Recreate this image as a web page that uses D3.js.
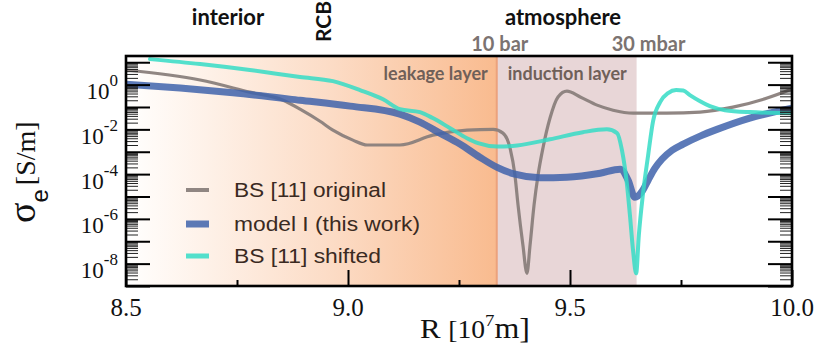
<!DOCTYPE html>
<html>
<head>
<meta charset="utf-8">
<script src="https://cdn.jsdelivr.net/npm/d3@7"></script>
<style>
  html, body { margin: 0; padding: 0; background: #ffffff; }
  svg { display: block; }
</style>
</head>
<body>
<svg id="chart" width="829" height="353"></svg>
<script>
// Radius R in units of 10^7 m, electrical conductivity sigma_e in S/m.
const modelR = [8.500, 8.622, 8.741, 8.892, 9.005, 9.117, 9.162, 9.207, 9.252, 9.297, 9.336, 9.376,
                9.432, 9.493, 9.568, 9.613, 9.631, 9.646, 9.664, 9.676, 9.691, 9.707, 9.730, 9.755,
                9.793, 9.831, 9.905, 10.000];
const modelSigma = [1.05, 0.70, 0.43, 0.20, 0.109, 0.048, 0.021, 6.8e-3, 2.2e-3, 5.7e-4, 2.0e-4, 9.9e-5,
                    6.9e-5, 7.3e-5, 1.1e-4, 1.65e-4, 5.3e-5, 9.2e-6, 1.9e-5, 5.3e-5, 1.8e-4, 4.6e-4, 1.17e-3, 2.2e-3,
                    5.0e-3, 1.0e-2, 3.2e-2, 8.9e-2];

const shiftedR = [8.554, 8.667, 8.779, 8.892, 8.966, 9.027, 9.079, 9.117, 9.162, 9.191, 9.230, 9.268,
                  9.293, 9.336, 9.381, 9.455, 9.529, 9.583, 9.606, 9.617, 9.628, 9.635, 9.642, 9.649,
                  9.655, 9.664, 9.676, 9.687, 9.703, 9.721, 9.739, 9.755, 9.770, 9.793, 9.815, 9.849,
                  9.905, 10.000];
const shiftedSigma = [13.8, 8.3, 4.5, 2.2, 1.43, 0.57, 0.22, 0.080, 0.059, 0.032, 0.0113, 4.0e-3,
                      2.4e-3, 1.7e-3, 1.9e-3, 3.6e-3, 7.5e-3, 1.0e-2, 6.8e-3, 1.17e-3, 3.9e-5, 1.45e-6, 3.9e-8, 3.7e-9,
                      1.85e-7, 1.14e-5, 7.0e-4, 2.3e-2, 0.165, 0.42, 0.57, 0.54, 0.34, 0.18, 0.109, 0.072,
                      0.059, 0.053];

const originalR = [8.500, 8.667, 8.779, 8.854, 8.892, 8.937, 8.966, 9.011, 9.043, 9.117, 9.191, 9.268,
                   9.327, 9.349, 9.365, 9.376, 9.383, 9.394, 9.403, 9.410, 9.419, 9.428, 9.439, 9.455,
                   9.473, 9.493, 9.523, 9.561, 9.597, 9.642, 9.718, 9.793, 9.867, 9.944, 10.000];
const originalSigma = [4.5, 1.6, 0.46, 0.20, 0.080, 0.023, 9.2e-3, 3.3e-3, 2.0e-3, 2.0e-3, 5.5e-3, 9.2e-3,
                       1.0e-2, 6.8e-3, 1.44e-3, 8.9e-5, 4.1e-6, 6.6e-8, 3.7e-9, 6.6e-8, 4.1e-6, 8.9e-5, 1.44e-3, 0.032,
                       0.28, 0.51, 0.28, 0.121, 0.072, 0.053, 0.053, 0.059, 0.098, 0.25, 0.63];

const xMajorTicks = [8.5, 9.0, 9.5, 10.0];
const xTickLabels = ["8.5", "9.0", "9.5", "10.0"];
const xMinorTicks = [8.75, 9.25, 9.75];
const yLabelExponents = [0, -2, -4, -6, -8];
const yDecades = [-9, -8, -7, -6, -5, -4, -3, -2, -1, 0, 1];

// boundaries of the leakage layer (10 bar) and the induction layer (30 mbar)
const boundary10bar = 9.335;
const boundary30mbar = 9.65;

const legendLabels = ["BS [11] original", "model I (this work)", "BS [11] shifted"];

const plot = { left: 126, right: 792, top: 56, bottom: 286 };

const svg = d3.select("#chart");
const x = d3.scaleLinear().domain([8.5, 10.0]).range([plot.left, plot.right]);
const y = d3.scaleLog().domain([1e-9, 19]).range([plot.bottom, plot.top]);

const defs = svg.append("defs");
const grad = defs.append("linearGradient")
  .attr("id", "leakGrad")
  .attr("gradientUnits", "userSpaceOnUse")
  .attr("x1", x(8.5)).attr("x2", x(boundary10bar))
  .attr("y1", 0).attr("y2", 0);
grad.append("stop").attr("offset", 0).attr("stop-color", "#ffffff");
grad.append("stop").attr("offset", 0.06).attr("stop-color", "#fffbf8");
grad.append("stop").attr("offset", 0.55).attr("stop-color", "#fcdcc6");
grad.append("stop").attr("offset", 1).attr("stop-color", "#f9bb8f");

defs.append("clipPath").attr("id", "plotClip")
  .append("rect")
  .attr("x", plot.left).attr("y", plot.top)
  .attr("width", plot.right - plot.left).attr("height", plot.bottom - plot.top);

// shaded layers
svg.append("rect")
  .attr("x", x(8.5)).attr("y", plot.top)
  .attr("width", x(boundary10bar) - x(8.5)).attr("height", plot.bottom - plot.top)
  .attr("fill", "url(#leakGrad)");
svg.append("rect")
  .attr("x", x(boundary10bar)).attr("y", plot.top)
  .attr("width", x(boundary30mbar) - x(boundary10bar)).attr("height", plot.bottom - plot.top)
  .attr("fill", "#e8d6d7");
svg.append("line")
  .attr("x1", x(boundary10bar)).attr("x2", x(boundary10bar))
  .attr("y1", plot.top).attr("y2", plot.bottom)
  .attr("stroke", "#eca27c").attr("stroke-width", 2);

// layer names
svg.append("text")
  .attr("x", x(boundary10bar) - 9).attr("y", 80)
  .attr("text-anchor", "end")
  .attr("font-family", "Lato, sans-serif").attr("font-weight", 700).attr("font-size", 18)
  .attr("fill", "#6f6059")
  .text("leakage layer");
svg.append("text")
  .attr("x", x(boundary10bar) + 11).attr("y", 80)
  .attr("font-family", "Lato, sans-serif").attr("font-weight", 700).attr("font-size", 18)
  .attr("fill", "#6f6059")
  .text("induction layer");

// conductivity profiles
const lineGen = d3.line()
  .x(d => x(d[0]))
  .y(d => y(d[1]))
  .curve(d3.curveMonotoneX);

const curves = svg.append("g").attr("clip-path", "url(#plotClip)");
const series = [
  { r: originalR, s: originalSigma, color: "#8a807c", width: 3.2, opacity: 0.95 },
  { r: modelR, s: modelSigma, color: "#3f63ac", width: 7, opacity: 0.85 },
  { r: shiftedR, s: shiftedSigma, color: "#35dcc6", width: 4, opacity: 0.85 }
];
series.forEach(sr => {
  curves.append("path")
    .datum(sr.r.map((v, i) => [v, sr.s[i]]))
    .attr("d", lineGen)
    .attr("fill", "none")
    .attr("stroke", sr.color)
    .attr("stroke-width", sr.width)
    .attr("stroke-opacity", sr.opacity)
    .attr("stroke-linejoin", "round")
    .attr("stroke-linecap", "round");
});

// legend
const legend = svg.append("g");
const legendRowY = [190, 224, 256];
const legendTextLen = [152, 186, 147];
series.forEach((sr, i) => {
  legend.append("line")
    .attr("x1", 186).attr("x2", 209)
    .attr("y1", legendRowY[i]).attr("y2", legendRowY[i])
    .attr("stroke", sr.color)
    .attr("stroke-opacity", sr.opacity)
    .attr("stroke-width", [4, 7, 5][i]);
  legend.append("text")
    .attr("x", 234).attr("y", legendRowY[i] + 6.5)
    .attr("font-family", "'Liberation Sans', Arial, sans-serif")
    .attr("font-size", 20)
    .attr("fill", "#3a2a22")
    .attr("textLength", legendTextLen[i])
    .attr("lengthAdjust", "spacingAndGlyphs")
    .text(legendLabels[i]);
});

// y axis ticks (left and right, pointing inward)
const yMajor = yDecades.map(e => Math.pow(10, e));
const yMinor = [];
yDecades.forEach(e => {
  for (let k = 2; k <= 9; k++) {
    const v = k * Math.pow(10, e);
    if (v >= 1e-9 && v <= 19) yMinor.push(v);
  }
});

function styleAxis(g) {
  g.select(".domain").remove();
  g.selectAll(".tick line").attr("stroke", "#000");
  g.selectAll(".tick text").remove();
}
svg.append("g").attr("transform", `translate(${plot.left},0)`)
  .call(d3.axisLeft(y).tickValues(yMinor).tickSize(-12).tickFormat(""))
  .call(styleAxis).selectAll(".tick line").attr("stroke-width", 1).attr("stroke", "#222");
svg.append("g").attr("transform", `translate(${plot.left},0)`)
  .call(d3.axisLeft(y).tickValues(yMajor).tickSize(-24).tickFormat(""))
  .call(styleAxis).selectAll(".tick line").attr("stroke-width", 2);
svg.append("g").attr("transform", `translate(${plot.right},0)`)
  .call(d3.axisRight(y).tickValues(yMinor).tickSize(-12).tickFormat(""))
  .call(styleAxis).selectAll(".tick line").attr("stroke-width", 1).attr("stroke", "#222");
svg.append("g").attr("transform", `translate(${plot.right},0)`)
  .call(d3.axisRight(y).tickValues(yMajor).tickSize(-24).tickFormat(""))
  .call(styleAxis).selectAll(".tick line").attr("stroke-width", 2);

// x axis ticks (pointing inward)
svg.append("g").attr("transform", `translate(0,${plot.bottom})`)
  .call(d3.axisBottom(x).tickValues(xMajorTicks).tickSize(-16).tickFormat(""))
  .call(styleAxis).selectAll(".tick line").attr("stroke-width", 2);
svg.append("g").attr("transform", `translate(0,${plot.bottom})`)
  .call(d3.axisBottom(x).tickValues(xMinorTicks).tickSize(-6).tickFormat(""))
  .call(styleAxis).selectAll(".tick line").attr("stroke-width", 2);

// frame
svg.append("rect")
  .attr("x", plot.left).attr("y", plot.top)
  .attr("width", plot.right - plot.left).attr("height", plot.bottom - plot.top)
  .attr("fill", "none").attr("stroke", "#000").attr("stroke-width", 2.6);

// tick labels
const serif = "'Liberation Serif', 'Times New Roman', serif";
xMajorTicks.forEach((v, i) => {
  svg.append("text")
    .attr("x", x(v)).attr("y", 316)
    .attr("text-anchor", "middle")
    .attr("font-family", serif).attr("font-size", 25)
    .attr("fill", "#111")
    .text(xTickLabels[i]);
});
yLabelExponents.forEach(e => {
  const t = svg.append("text")
    .attr("x", 118).attr("y", y(Math.pow(10, e)) + 14.5)
    .attr("text-anchor", "end")
    .attr("font-family", serif).attr("fill", "#111");
  t.append("tspan").attr("font-size", 23).text("10");
  t.append("tspan").attr("font-size", 17).attr("dy", -13).text(String(e));
});

// axis titles
const xt = svg.append("text")
  .attr("x", 420).attr("y", 338)
  .attr("font-family", serif).attr("fill", "#111")
  .attr("textLength", 110)
  .attr("lengthAdjust", "spacingAndGlyphs");
xt.append("tspan").attr("font-size", 28).text("R ");
xt.append("tspan").attr("font-size", 25).text("[10");
xt.append("tspan").attr("font-size", 17).attr("dy", -12).text("7");
xt.append("tspan").attr("font-size", 29).attr("dy", 12).text("m]");

const yt = svg.append("text")
  .attr("transform", "translate(35,223) rotate(-90)")
  .attr("font-family", serif).attr("fill", "#111");
yt.append("tspan").attr("font-size", 38).text("σ");
yt.append("tspan").attr("font-size", 24).attr("dy", 13)
  .attr("font-family", "'Liberation Sans', Arial, sans-serif").text("e");
yt.append("tspan").attr("font-size", 28).attr("dy", -13).attr("dx", 4).text("[S/m]");

// region annotations above the frame
const lato = "Lato, 'Open Sans', sans-serif";
svg.append("text").attr("x", 228).attr("y", 25)
  .attr("text-anchor", "middle")
  .attr("font-family", lato).attr("font-weight", 700).attr("font-size", 22)
  .attr("fill", "#111").text("interior");
svg.append("text").attr("x", 563).attr("y", 25)
  .attr("text-anchor", "middle")
  .attr("font-family", lato).attr("font-weight", 700).attr("font-size", 22)
  .attr("fill", "#111").text("atmosphere");
svg.append("text")
  .attr("transform", "translate(331,42) rotate(-90)")
  .attr("font-family", lato).attr("font-weight", 700).attr("font-size", 21)
  .attr("fill", "#111").text("RCB");
svg.append("text").attr("x", x(boundary10bar) + 3).attr("y", 51)
  .attr("text-anchor", "middle")
  .attr("font-family", lato).attr("font-weight", 700).attr("font-size", 20)
  .attr("fill", "#7b7371").text("10 bar");
svg.append("text").attr("x", x(boundary30mbar) + 12).attr("y", 51)
  .attr("text-anchor", "middle")
  .attr("font-family", lato).attr("font-weight", 700).attr("font-size", 20)
  .attr("fill", "#7b7371").text("30 mbar");
</script>
</body>
</html>
